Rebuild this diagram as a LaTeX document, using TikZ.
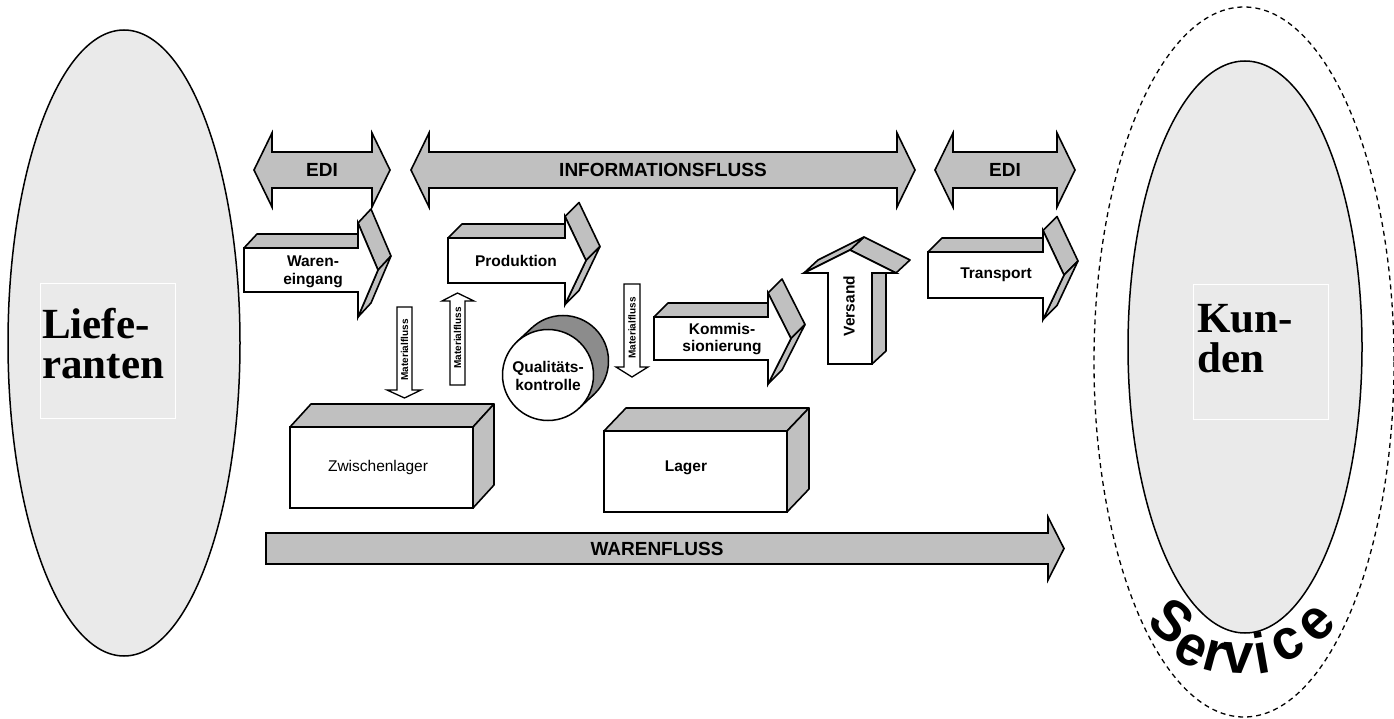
\documentclass[tikz,border=0pt]{standalone}
\usepackage{fontspec}
\setmainfont{Liberation Serif}
\newfontfamily\arial{Liberation Sans}
\definecolor{ellgray}{HTML}{EAEAEA}
\definecolor{argray}{HTML}{C0C0C0}
\definecolor{crgray}{HTML}{8C8C8C}
\tikzset{
  arface/.style={fill=argray, draw=black, line width=1.6pt, line join=round},
  arfront/.style={fill=white, draw=black, line width=1.6pt, line join=miter},
  flatar/.style={fill=argray, draw=black, line width=1.6pt, line join=miter},
  thinar/.style={fill=white, draw=black, line width=1.3pt, line join=miter},
  lab/.style={font=\arial\bfseries\fontsize{15.5}{17.5}\selectfont, align=center, inner sep=0pt},
  boxlab/.style={font=\arial\fontsize{15.5}{17.5}\selectfont, inner sep=0pt},
  biglab/.style={font=\arial\bfseries\fontsize{19}{21}\selectfont, inner sep=0pt},
  mflab/.style={font=\arial\bfseries\fontsize{10}{11}\selectfont, inner sep=0pt, rotate=90},
  partner/.style={font=\bfseries\fontsize{43}{40}\selectfont, align=left, inner sep=0pt, anchor=base west},
  svc/.style={font=\arial\bfseries\fontsize{54}{54}\selectfont, inner sep=0pt, anchor=center},
}
% 3D right arrow: x0, x1 (head base), x2 (tip), yc, shaft half, head half, dx, dy
\newcommand\rarrowthree[8]{%
\filldraw[arface] ({#1},{#4-(#5)}) -- ({#2},{#4-(#5)}) -- ({#2+(#7)},{#4-(#5)+(#8)}) -- ({#1+(#7)},{#4-(#5)+(#8)}) -- cycle;
\filldraw[arface] ({#2},{#4-(#6)}) -- ({#3},{#4}) -- ({#3+(#7)},{#4+(#8)}) -- ({#2+(#7)},{#4-(#6)+(#8)}) -- cycle;
\filldraw[arface] ({#3},{#4}) -- ({#2},{#4+(#6)}) -- ({#2+(#7)},{#4+(#6)+(#8)}) -- ({#3+(#7)},{#4+(#8)}) -- cycle;
\filldraw[arfront] ({#1},{#4-(#5)}) -- ({#2},{#4-(#5)}) -- ({#2},{#4-(#6)}) -- ({#3},{#4}) -- ({#2},{#4+(#6)}) -- ({#2},{#4+(#5)}) -- ({#1},{#4+(#5)}) -- cycle;
}
% flat double arrow: x0, x1, yc, head length, shaft half, head half
\newcommand\dblarrow[6]{%
\filldraw[flatar] ({#1},{#3}) -- ({#1+(#4)},{#3-(#6)}) -- ({#1+(#4)},{#3-(#5)}) -- ({#2-(#4)},{#3-(#5)}) -- ({#2-(#4)},{#3-(#6)}) -- ({#2},{#3}) -- ({#2-(#4)},{#3+(#6)}) -- ({#2-(#4)},{#3+(#5)}) -- ({#1+(#4)},{#3+(#5)}) -- ({#1+(#4)},{#3+(#6)}) -- cycle;
}
% 3D box: x0, y0 (front top-left), x1, y1 (front bottom-right), dx, dy
\newcommand\boxthree[6]{%
\filldraw[arface] (#1,#2) -- (#3,#2) -- ({#3+(#5)},{#2+(#6)}) -- ({#1+(#5)},{#2+(#6)}) -- cycle;
\filldraw[arface] (#3,#2) -- (#3,#4) -- ({#3+(#5)},{#4+(#6)}) -- ({#3+(#5)},{#2+(#6)}) -- cycle;
\filldraw[arfront] (#1,#2) rectangle (#3,#4);
}
\begin{document}
\begin{tikzpicture}[x=1pt,y=-1pt]
\fill[white] (0,0) rectangle (1394,719);
\useasboundingbox (0,0) rectangle (1394,719);

% partners
\filldraw[fill=ellgray, draw=black, line width=1.5pt] (124,343) ellipse [x radius=116, y radius=313];
\draw[white, line width=1pt] (40,283) rectangle (175,418);
\node[partner] (lief) at (42,378) {Liefe-\\ranten};

\draw[black, line width=1.3pt, dash pattern=on 5pt off 4pt] (1244,362) ellipse [x radius=150, y radius=355];
\filldraw[fill=ellgray, draw=black, line width=1.5pt] (1245,347) ellipse [x radius=117, y radius=286];
\draw[white, line width=1pt] (1193,284) rectangle (1328,419);
\node[partner] (kund) at (1197,372) {Kun-\\den};

% information flow
\dblarrow{254}{390}{170}{18}{18}{37}
\dblarrow{411}{915}{170}{18}{18}{37}
\dblarrow{935}{1075}{170}{18}{18}{37}
\node[biglab] (edi1) at (322,170) {EDI};
\node[biglab] (info) at (663,170) {INFORMATIONSFLUSS};
\node[biglab] (edi2) at (1005,170) {EDI};

% goods flow
\filldraw[flatar] (266,533) -- (1048,533) -- (1048,517) -- (1064,548.5) -- (1048,580) -- (1048,564) -- (266,564) -- cycle;
\node[biglab] (waren) at (657,548.5) {WARENFLUSS};

% process arrows
\rarrowthree{244}{358}{378}{270}{22}{47}{13}{-14}
\node[lab] (we) at (313,272) {Waren-\\eingang};
\rarrowthree{448}{565}{586}{260.5}{22.5}{44}{14}{-14}
\node[lab] (prod) at (516,261) {Produktion};
\rarrowthree{654}{768}{791}{338.5}{21.5}{45.5}{14}{-14}
\node[lab] (komm) at (722,339) {Kommis-\\sionierung};
\rarrowthree{928}{1043}{1064}{275}{23}{44.5}{14}{-14}
\node[lab] (trans) at (996,275) {Transport};

% Versand (up arrow)
\filldraw[arface] (872,364) -- (872,273) -- (886,260) -- (886,351) -- cycle;
\filldraw[arface] (896,273) -- (850,250) -- (864,237) -- (910,260) -- cycle;
\filldraw[arface] (850,250) -- (804,273) -- (818,260) -- (864,237) -- cycle;
\filldraw[arfront] (828,364) -- (872,364) -- (872,273) -- (896,273) -- (850,250) -- (804,273) -- (828,273) -- cycle;
\node[lab, rotate=90] (vers) at (849,306) {Versand};

% material flow arrows
\filldraw[thinar] (397,307) -- (412,307) -- (412,390) -- (421,390) -- (404.5,398) -- (387,390) -- (397,390) -- cycle;
\node[mflab] (mf1) at (404.5,350) {Materialfluss};
\filldraw[thinar] (450,385) -- (465,385) -- (465,301) -- (474,301) -- (457.5,293) -- (442,301) -- (450,301) -- cycle;
\node[mflab] (mf2) at (457.5,338) {Materialfluss};
\filldraw[thinar] (624,284) -- (640,284) -- (640,367) -- (648,367) -- (632,377) -- (616,367) -- (624,367) -- cycle;
\node[mflab] (mf3) at (632,328) {Materialfluss};

% quality control cylinder
\filldraw[fill=crgray, draw=black, line width=1.5pt] (563,361) circle [radius=45.5];
\fill[crgray] (579,408.3) -- (594,394.3) -- (532,327.7) -- (517,341.7) -- cycle;
\draw[black, line width=1.5pt] (579,408.3) -- (594,394.3) (517,341.7) -- (532,327.7);
\filldraw[fill=white, draw=black, line width=1.5pt] (548,375) circle [radius=45.5];
\node[lab] (qk) at (548,376) {Qualitäts-\\kontrolle};

% stores
\boxthree{290}{427}{473}{508}{21}{-23}
\node[boxlab] (zl) at (378,467) {Zwischenlager};
\boxthree{604}{431}{787}{512}{22}{-23}
\node[lab] (lager) at (686,468) {Lager};

% Service as arched word art
\foreach \ch/\px/\py/\r [count=\i] in {S/1172/621/-40, e/1191/650/-28, r/1215/656/-15, v/1238/658/-3, i/1261/653/10, c/1288/644/27, e/1317/624/43}
  \node[svc, rotate=\r, yscale=1.06] (svc\i) at (\px,\py) {\ch};
\end{tikzpicture}
\end{document}
